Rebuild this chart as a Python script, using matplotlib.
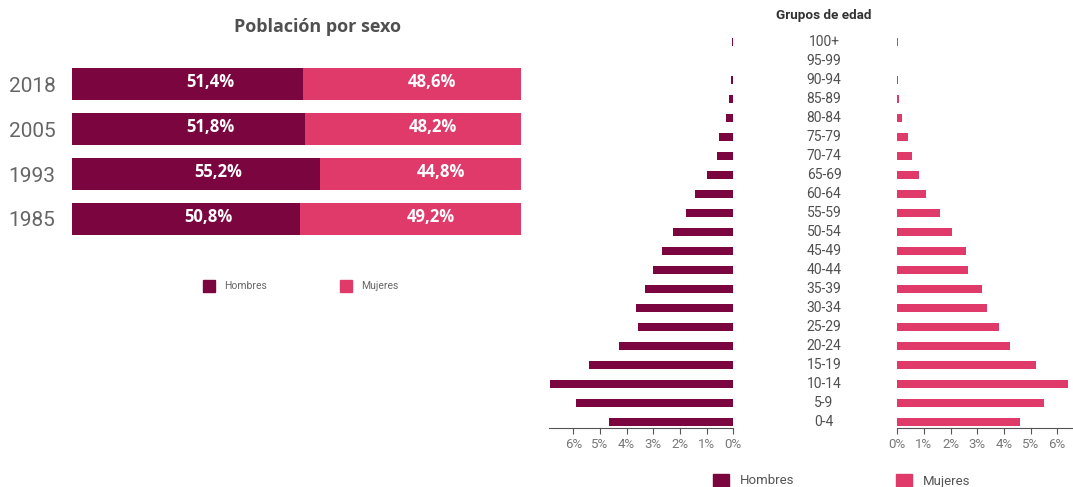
import numpy as np
import matplotlib
matplotlib.use("Agg")
import matplotlib.pyplot as plt
from matplotlib.patches import Rectangle

W, H = 1073, 487
HOMBRES = "#7b063f"
MUJERES = "#e03a6b"

# ── Población por sexo ─────────────────────────────────────────────────────────
years   = ["2018", "2005", "1993", "1985"]
hombres = [51.4, 51.8, 55.2, 50.8]
mujeres = [48.6, 48.2, 44.8, 49.2]

# ── Pirámide por grupos de edad (% del total) ─────────────────────────────────
grupos = ["100+", "95-99", "90-94", "85-89", "80-84", "75-79", "70-74",
          "65-69", "60-64", "55-59", "50-54", "45-49", "40-44", "35-39",
          "30-34", "25-29", "20-24", "15-19", "10-14", "5-9", "0-4"]
pir_hombres = [0.04, 0.03, 0.07, 0.15, 0.26, 0.52, 0.61, 0.99, 1.42, 1.77,
               2.28, 2.67, 3.01, 3.30, 3.64, 3.56, 4.29, 5.42, 6.89, 5.89, 4.67]
pir_mujeres = [0.04, 0.0, 0.02, 0.07, 0.18, 0.39, 0.56, 0.83, 1.06, 1.61,
               2.05, 2.59, 2.66, 3.17, 3.37, 3.82, 4.21, 5.22, 6.42, 5.49, 4.60]
ticks_pct = [0, 1, 2, 3, 4, 5, 6]


def px_axes(x0, y0, x1, y1):
    """Axes from pixel box (top-left origin)."""
    return fig.add_axes([x0 / W, 1 - y1 / H, (x1 - x0) / W, (y1 - y0) / H])


def fx(x):
    return x / W


def fy(y):
    return 1 - y / H


fig = plt.figure(figsize=(W / 100, H / 100), dpi=100)
plt.rcParams["font.family"] = ["Roboto", "DejaVu Sans"]

# ── Left: stacked 100% bars ────────────────────────────────────────────────────
ax = px_axes(72, 61.5, 521, 241.5)
pos = np.arange(len(years))
ax.barh(pos, hombres, height=0.71, color=HOMBRES)
ax.barh(pos, mujeres, left=hombres, height=0.71, color=MUJERES)
ax.set_xlim(0, 100)
ax.set_ylim(len(years) - 0.5, -0.5)
for i, (h, m) in enumerate(zip(hombres, mujeres)):
    ax.text(h / 2 + 5, i - 0.04, f"{h:.1f}%".replace(".", ","), ha="center",
            va="center", color="white", fontsize=12, fontweight="bold",
            family=["Open Sans", "DejaVu Sans"])
    ax.text(h + m / 2 + 4.5, i - 0.04, f"{m:.1f}%".replace(".", ","),
            ha="center", va="center", color="white", fontsize=12,
            fontweight="bold", family=["Open Sans", "DejaVu Sans"])
ax.set_yticks(pos)
ax.set_yticklabels(years, fontsize=15, color="#666666")
ax.tick_params(axis="y", length=0, pad=12)
ax.set_xticks([])
for s in ax.spines.values():
    s.set_visible(False)

fig.text(fx(317), fy(27), "Población por sexo", ha="center", va="center",
         fontsize=13, fontweight="bold", color="#505050",
         family=["Open Sans", "DejaVu Sans"])

# legend (left)
for x, lab, col in [(203, "Hombres", HOMBRES), (340, "Mujeres", MUJERES)]:
    fig.add_artist(Rectangle((fx(x), fy(292)), 12 / W, 12 / H,
                             transform=fig.transFigure, color=col))
    fig.text(fx(x + 21), fy(286), lab, ha="left", va="center",
             fontsize=7.5, color="#666666")

# ── Right: population pyramid ──────────────────────────────────────────────────
ypos = np.arange(len(grupos))
ylim = (20 + 6 / 19, -10 / 19)

axl = px_axes(549.3, 32, 733.3, 428)
axl.barh(ypos, pir_hombres, height=0.42, color=HOMBRES)
axl.set_xlim(6.9, 0)
axl.set_ylim(*ylim)

axr = px_axes(897.3, 32, 1072.7, 428)
axr.barh(ypos, pir_mujeres, height=0.42, color=MUJERES)
axr.set_xlim(0, 6.58)
axr.set_ylim(*ylim)

for a in (axl, axr):
    for k in ("top", "left", "right"):
        a.spines[k].set_visible(False)
    a.spines["bottom"].set_color("#555555")
    a.set_yticks([])
    a.set_xticks(ticks_pct)
    a.set_xticklabels([f"{t}%" for t in ticks_pct])
    a.tick_params(axis="x", direction="out", length=4, color="#555555",
                  labelsize=9.5, labelcolor="#777777", pad=3)

for j, g in enumerate(grupos):
    fig.text(fx(824), fy(42 + 19 * j), g, ha="center", va="center",
             fontsize=10, color="#505050")

fig.text(fx(824), fy(15), "Grupos de edad", ha="center", va="center",
         fontsize=9.7, fontweight="bold", color="#333333")

# legend (bottom)
for x, lab, col in [(713, "Hombres", HOMBRES), (896, "Mujeres", MUJERES)]:
    fig.add_artist(Rectangle((fx(x), fy(488)), 16 / W, 14 / H,
                             transform=fig.transFigure, color=col))
    fig.text(fx(x + 27), fy(481), lab, ha="left", va="center",
             fontsize=9.5, color="#555555")

fig.savefig("out.png", dpi=100)
